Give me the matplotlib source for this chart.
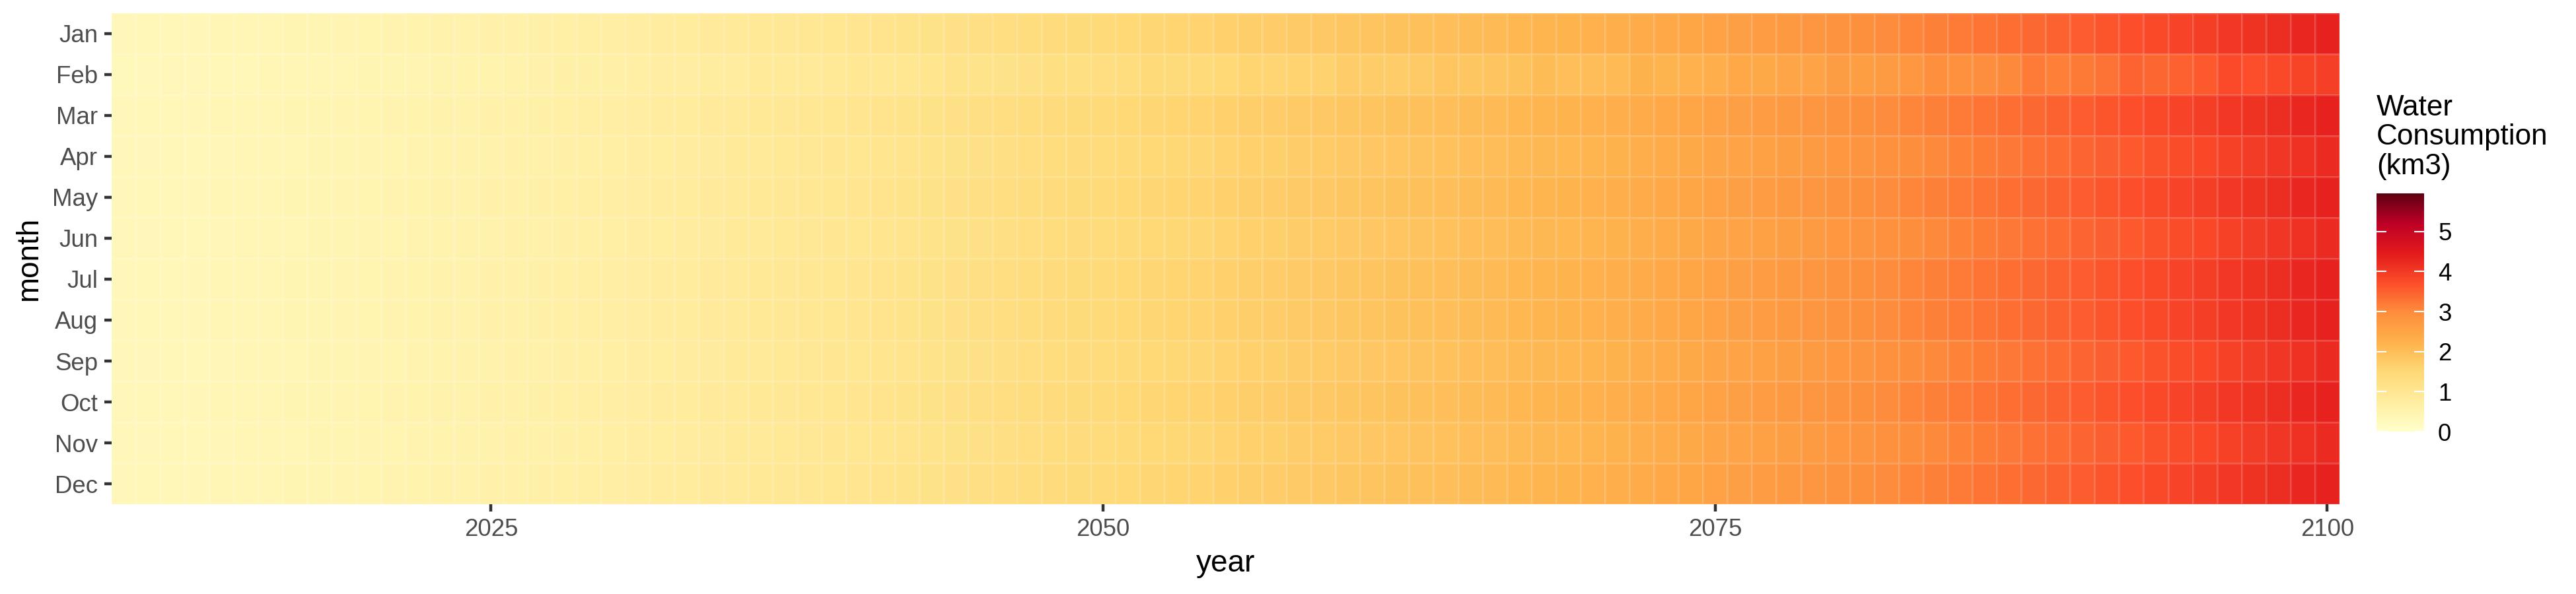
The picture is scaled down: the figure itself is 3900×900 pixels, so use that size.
import matplotlib
matplotlib.use("Agg")
import matplotlib.pyplot as plt
import numpy as np
from matplotlib.colors import LinearSegmentedColormap, Normalize

plt.rcParams["font.family"] = ["Liberation Sans", "DejaVu Sans"]

years = list(range(2010, 2101))
month_labels = ["Jan", "Feb", "Mar", "Apr", "May", "Jun",
                "Jul", "Aug", "Sep", "Oct", "Nov", "Dec"]

# monthly water consumption (km3)
# 31-day months (Jan, Mar, May, Jul, Aug, Oct, Dec)
cons_31day = [
    0.33, 0.34, 0.35, 0.37, 0.38, 0.40, 0.41, 0.42, 0.44, 0.45,
    0.47, 0.49, 0.51, 0.53, 0.55, 0.57, 0.60, 0.62, 0.65, 0.67,
    0.70, 0.74, 0.77, 0.80, 0.84, 0.88, 0.91, 0.95, 0.98, 1.02,
    1.05, 1.09, 1.13, 1.17, 1.21, 1.25, 1.29, 1.33, 1.37, 1.41,
    1.45, 1.49, 1.53, 1.57, 1.60, 1.65, 1.69, 1.73, 1.77, 1.81,
    1.85, 1.89, 1.93, 1.97, 2.01, 2.05, 2.09, 2.14, 2.18, 2.21,
    2.25, 2.31, 2.37, 2.43, 2.49, 2.55, 2.61, 2.67, 2.73, 2.79,
    2.85, 2.92, 2.99, 3.06, 3.13, 3.20, 3.27, 3.34, 3.41, 3.48,
    3.55, 3.63, 3.71, 3.79, 3.87, 3.95, 4.03, 4.11, 4.19, 4.27,
    4.35,
]
# 30-day months (Apr, Jun, Sep, Nov)
cons_30day = [
    0.32, 0.33, 0.34, 0.36, 0.37, 0.39, 0.40, 0.41, 0.43, 0.44,
    0.45, 0.47, 0.49, 0.51, 0.53, 0.55, 0.58, 0.60, 0.63, 0.65,
    0.68, 0.72, 0.75, 0.77, 0.81, 0.85, 0.88, 0.92, 0.95, 0.99,
    1.02, 1.06, 1.09, 1.13, 1.17, 1.21, 1.25, 1.29, 1.33, 1.36,
    1.40, 1.44, 1.48, 1.52, 1.55, 1.60, 1.64, 1.67, 1.71, 1.75,
    1.79, 1.83, 1.87, 1.91, 1.95, 1.98, 2.02, 2.07, 2.11, 2.14,
    2.18, 2.24, 2.29, 2.35, 2.41, 2.47, 2.53, 2.58, 2.64, 2.70,
    2.76, 2.83, 2.89, 2.96, 3.03, 3.10, 3.17, 3.23, 3.30, 3.37,
    3.44, 3.51, 3.59, 3.67, 3.75, 3.82, 3.90, 3.98, 4.06, 4.13,
    4.21,
]
# February
cons_feb = [
    0.30, 0.31, 0.33, 0.33, 0.34, 0.36, 0.38, 0.38, 0.40, 0.41,
    0.44, 0.44, 0.46, 0.48, 0.51, 0.51, 0.54, 0.56, 0.61, 0.61,
    0.63, 0.67, 0.72, 0.72, 0.76, 0.79, 0.85, 0.86, 0.88, 0.92,
    0.98, 0.98, 1.02, 1.06, 1.13, 1.13, 1.16, 1.20, 1.28, 1.27,
    1.31, 1.35, 1.43, 1.42, 1.44, 1.49, 1.58, 1.56, 1.60, 1.63,
    1.73, 1.71, 1.74, 1.78, 1.88, 1.85, 1.89, 1.93, 2.04, 2.00,
    2.03, 2.09, 2.22, 2.19, 2.25, 2.30, 2.44, 2.41, 2.47, 2.52,
    2.66, 2.64, 2.70, 2.76, 2.93, 2.89, 2.95, 3.02, 3.19, 3.14,
    3.21, 3.28, 3.47, 3.42, 3.49, 3.57, 3.77, 3.71, 3.78, 3.86,
    3.93,
]

month_series = {
    "Jan": cons_31day, "Feb": cons_feb, "Mar": cons_31day, "Apr": cons_30day,
    "May": cons_31day, "Jun": cons_30day, "Jul": cons_31day, "Aug": cons_31day,
    "Sep": cons_30day, "Oct": cons_31day, "Nov": cons_30day, "Dec": cons_31day,
}

fill_limits = (0.0, 5.95)
fill_palette = ["#FFFFCC", "#FFEDA0", "#FED976", "#FEB24C", "#FD8D3C",
                "#FC4E2A", "#E31A1C", "#BD0026", "#5E0012"]
colorbar_ticks = [0, 1, 2, 3, 4, 5]
year_ticks = [2025, 2050, 2075, 2100]


def main() -> int:
    values = np.array([month_series[m] for m in month_labels])
    cmap = LinearSegmentedColormap.from_list("ylorrd", fill_palette, N=512)
    norm = Normalize(vmin=fill_limits[0], vmax=fill_limits[1])

    fig = plt.figure(figsize=(13, 3), dpi=300)
    ax = fig.add_axes([0.0433, 0.1511, 0.9082 - 0.0433, 0.9778 - 0.1511])

    x_edges = np.arange(years[0] - 0.5, years[-1] + 1.0, 1.0)
    y_edges = np.arange(len(month_labels) + 1)
    mesh = ax.pcolormesh(x_edges, y_edges, values, cmap=cmap, norm=norm,
                         edgecolors=(1, 1, 1, 0.13), linewidth=0.25)

    ax.set_xlim(x_edges[0], x_edges[-1])
    ax.set_ylim(len(month_labels), 0)
    ax.set_yticks(np.arange(len(month_labels)) + 0.5)
    ax.set_yticklabels(month_labels)
    ax.set_xticks(year_ticks)
    for spine in ax.spines.values():
        spine.set_visible(False)
    ax.tick_params(length=2.75, width=1.07, color="#333333", labelcolor="#4D4D4D",
                   labelsize=8.8, pad=2.2)
    ax.set_xlabel("year", fontsize=11, labelpad=3)
    ax.set_ylabel("month", fontsize=11, labelpad=3)

    cax = fig.add_axes([0.9226, 0.2733, 0.0185, 0.401])
    cbar = fig.colorbar(mesh, cax=cax, ticks=colorbar_ticks)
    cbar.outline.set_visible(False)
    cax.tick_params(which="both", direction="in", length=3.5, width=0.5,
                    color="white", left=True, right=True, labelleft=False,
                    labelright=True, labelsize=8.8, labelcolor="black", pad=5)
    cax.minorticks_off()

    fig.text(0.9226, 0.697, "Water\nConsumption\n(km3)", ha="left", va="bottom",
             fontsize=10.6, linespacing=1.1)

    fig.savefig("out.png", dpi=300, facecolor="white")
    plt.close(fig)
    return 0


if __name__ == "__main__":
    raise SystemExit(main())
